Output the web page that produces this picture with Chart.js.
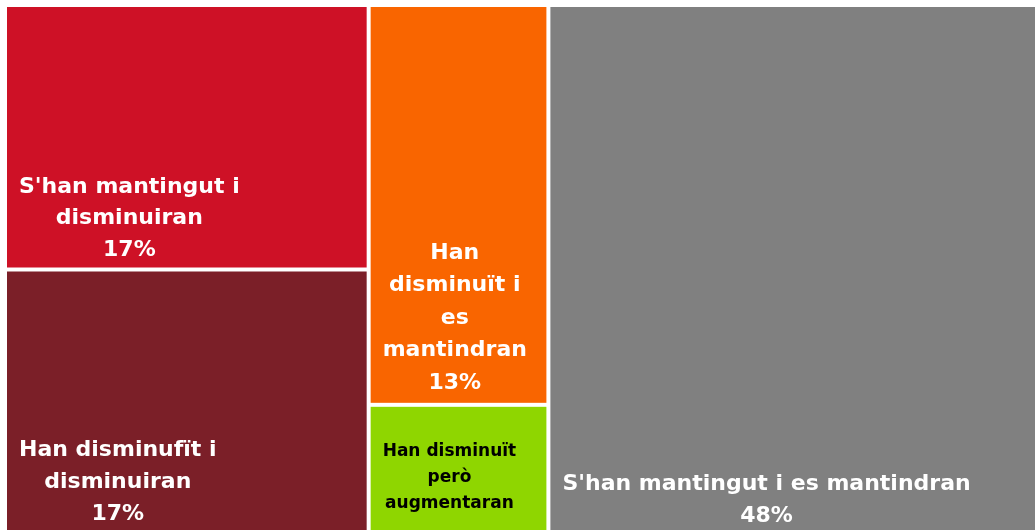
<!DOCTYPE html>
<html>
<head>
<meta charset="utf-8">
<script src="https://cdn.jsdelivr.net/npm/chart.js@4.4.1/dist/chart.umd.min.js"></script>
<style>
    html, body { margin: 0; padding: 0; background: #ffffff; overflow: hidden; }
    canvas { display: block; }
</style>
</head>
<body>
<canvas id="treeChart" width="1050" height="534"></canvas>
<script>
// categories and values (percent of total)
const categories = [
    ["S'han mantingut i", "disminuiran"],
    ["Han disminufït i", "disminuiran"],
    ["Han", "disminuït i", "es", "mantindran"],
    ["Han disminuït", "però", "augmentaran"],
    ["S'han mantingut i es mantindran"]
];
const values = [17.4, 17.4, 13.0, 4.2, 48.0];
// which column of the treemap each category sits in
const columns = [0, 0, 1, 1, 2];
const showPercent = [true, true, true, false, true];

const cellColors = ['#CE1126', '#7B1F28', '#F96500', '#8FD600', '#808080'];
const labelColors = ['#ffffff', '#ffffff', '#ffffff', '#000000', '#ffffff'];
const labelSizes = [22, 22, 22, 17, 22];
const lineHeights = [31.5, 32, 32.5, 26, 32];
const bottomPads = [12, 12, 14, 24, 10];

const FONT = '"DejaVu Sans", sans-serif';

function layoutCells() {
    const total = values.reduce((a, b) => a + b, 0);
    const colSums = [];
    values.forEach((v, i) => { colSums[columns[i]] = (colSums[columns[i]] || 0) + v; });
    const colStart = [];
    let acc = 0;
    colSums.forEach((s, c) => { colStart[c] = acc; acc += s / total * 100; });
    const used = colSums.map(() => 0);
    return values.map((v, i) => {
        const c = columns[i];
        const x0 = colStart[c];
        const x1 = x0 + colSums[c] / total * 100;
        const y0 = used[c] / colSums[c] * 100;
        used[c] += v;
        const y1 = used[c] / colSums[c] * 100;
        return { x0, x1, y0, y1 };
    });
}

const treemapPlugin = {
    id: 'treemapCells',
    beforeDatasetsDraw(chart) {
        const ctx = chart.ctx;
        const xs = chart.scales.x, ys = chart.scales.y;
        const gap = 2;
        layoutCells().forEach((cell, i) => {
            const left = xs.getPixelForValue(cell.x0) + gap;
            const right = xs.getPixelForValue(cell.x1) - gap;
            const top = ys.getPixelForValue(cell.y0) + gap;
            const bottom = ys.getPixelForValue(cell.y1) - gap;
            ctx.save();
            ctx.fillStyle = cellColors[i];
            ctx.fillRect(left, top, right - left, bottom - top);

            const lines = categories[i].slice();
            if (showPercent[i]) lines.push(Math.round(values[i]) + '%');
            ctx.font = 'bold ' + labelSizes[i] + 'px ' + FONT;
            ctx.fillStyle = labelColors[i];
            ctx.textAlign = 'center';
            ctx.textBaseline = 'alphabetic';
            const maxW = Math.max(...lines.map(l => ctx.measureText(l).width));
            const cx = left + 12 + maxW / 2;
            const lastY = bottom - bottomPads[i];
            lines.forEach((l, k) => {
                ctx.fillText(l, cx, lastY - (lines.length - 1 - k) * lineHeights[i]);
            });
            ctx.restore();
        });
    }
};

new Chart(document.getElementById('treeChart'), {
    type: 'scatter',
    data: { datasets: [{ data: [], pointRadius: 0 }] },
    options: {
        responsive: false,
        animation: false,
        layout: { padding: { left: 5, top: 5, right: 0, bottom: 0 } },
        plugins: { legend: { display: false }, tooltip: { enabled: false } },
        scales: {
            x: { type: 'linear', min: 0, max: 100, display: false },
            y: { type: 'linear', min: 0, max: 100, reverse: true, display: false }
        }
    },
    plugins: [treemapPlugin]
});
</script>
</body>
</html>
